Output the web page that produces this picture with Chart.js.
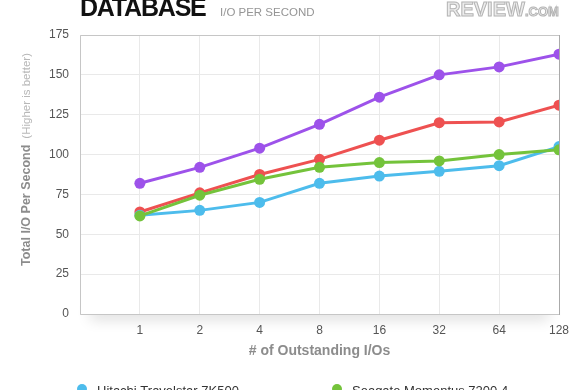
<!DOCTYPE html>
<html>
<head>
<meta charset="utf-8">
<script src="https://cdn.jsdelivr.net/npm/chart.js@4.4.0/dist/chart.umd.min.js"></script>
<style>
  html, body { margin: 0; padding: 0; background: #fff; overflow: hidden; }
  #wrap { width: 580px; height: 420px; }
</style>
</head>
<body>
<div id="wrap"><canvas id="chart" width="580" height="420"></canvas></div>
<script>
// values
const categories = ['1', '2', '4', '8', '16', '32', '64', '128'];
const hitachi = [62, 65, 70, 82, 86.5, 89.5, 93, 105];
const seagate = [61.5, 74.5, 84.5, 92, 95, 96, 100, 103];
const redDrive = [64, 76, 87.5, 97, 109, 120, 120.5, 131];
const purpleDrive = [82, 92, 104, 119, 136, 150, 155, 163];
const seriesNames = ['Hitachi Travelstar 7K500', 'Seagate Momentus 7200.4', 'WD Scorpio Black 500GB', 'Seagate Momentus XT'];
const seriesColors = ['#4dbcec', '#74c33b', '#ee5151', '#9d52ea'];
const yMax = 175;
const yStep = 25;

const FONT = "'Liberation Sans', Arial, Helvetica, sans-serif";
Chart.defaults.font.family = FONT;

function toPoints(values) {
  return values.map((v, i) => ({ x: i + 1, y: v }));
}

const decorations = {
  id: 'decorations',
  beforeDraw(chart) {
    const ctx = chart.ctx;
    const a = chart.chartArea;
    // soft shadow under the plot box
    ctx.save();
    ctx.shadowColor = 'rgba(0,0,0,0.13)';
    ctx.shadowBlur = 14;
    ctx.shadowOffsetY = 6;
    ctx.fillStyle = '#fff';
    ctx.fillRect(a.left + 10, a.bottom - 14, a.width - 20, 14);
    ctx.restore();
    ctx.fillStyle = '#fff';
    ctx.fillRect(a.left, a.top, a.width, a.height);
  },
  beforeDatasetsDraw(chart) {
    const ctx = chart.ctx;
    const a = chart.chartArea;
    ctx.save();
    ctx.lineWidth = 1;
    ctx.strokeStyle = '#c6c6c6';
    ctx.beginPath();
    ctx.moveTo(a.right, a.top + 0.5);
    ctx.lineTo(a.left + 0.5, a.top + 0.5);
    ctx.lineTo(a.left + 0.5, a.bottom + 0.5);
    ctx.lineTo(a.right, a.bottom + 0.5);
    ctx.stroke();
    ctx.strokeStyle = '#aaaaaa';
    ctx.beginPath();
    ctx.moveTo(a.right + 0.5, a.top);
    ctx.lineTo(a.right + 0.5, a.bottom + 1);
    ctx.stroke();
    ctx.restore();
  },
  afterDraw(chart) {
    const ctx = chart.ctx;
    ctx.save();

    // header
    ctx.textBaseline = 'alphabetic';
    ctx.textAlign = 'left';
    ctx.fillStyle = '#111';
    ctx.font = 'bold 25px ' + FONT;
    ctx.letterSpacing = '-1.2px';
    ctx.fillText('DATABASE', 80, 16);
    ctx.letterSpacing = '0px';
    ctx.fillStyle = '#959595';
    ctx.font = '11.5px ' + FONT;
    ctx.fillText('I/O PER SECOND', 220, 16);

    // site logo
    ctx.font = 'bold 20px ' + FONT;
    ctx.fillStyle = '#ececec';
    ctx.strokeStyle = '#b4b4b4';
    ctx.lineWidth = 1;
    ctx.fillText('REVIEW', 446, 16);
    ctx.strokeText('REVIEW', 446, 16);
    const w = ctx.measureText('REVIEW').width;
    ctx.font = 'bold 13px ' + FONT;
    ctx.fillText('.COM', 446 + w, 16);
    ctx.strokeText('.COM', 446 + w, 16);

    // y axis title, two styles
    ctx.translate(27, 266);
    ctx.rotate(-Math.PI / 2);
    ctx.textBaseline = 'middle';
    ctx.fillStyle = '#8c8c8c';
    ctx.font = 'bold 12.5px ' + FONT;
    const main = 'Total I/O Per Second';
    ctx.fillText(main, 0, 0);
    const mw = ctx.measureText(main).width;
    ctx.fillStyle = '#b8b8b8';
    ctx.font = '11.5px ' + FONT;
    ctx.fillText('(Higher is better)', mw + 6, 0);
    ctx.setTransform(1, 0, 0, 1, 0, 0);

    // legend, two columns
    ctx.font = '13px ' + FONT;
    ctx.textBaseline = 'alphabetic';
    const colX = [82, 337];
    seriesNames.forEach((name, i) => {
      const x = colX[i % 2];
      const y = 389 + Math.floor(i / 2) * 22;
      ctx.fillStyle = seriesColors[i];
      ctx.beginPath();
      ctx.arc(x, y, 5, 0, Math.PI * 2);
      ctx.fill();
      ctx.fillStyle = '#333';
      ctx.fillText(name, x + 15, y + 6);
    });
    ctx.restore();
  }
};

function makeSet(idx, values, order) {
  return {
    label: seriesNames[idx],
    data: toPoints(values),
    borderColor: seriesColors[idx],
    backgroundColor: seriesColors[idx],
    pointBackgroundColor: seriesColors[idx],
    pointBorderWidth: 0,
    pointRadius: 5.5,
    borderWidth: 3,
    tension: 0,
    order: order
  };
}

new Chart(document.getElementById('chart'), {
  type: 'line',
  data: {
    datasets: [
      makeSet(0, hitachi, 2),
      makeSet(1, seagate, 1),
      makeSet(2, redDrive, 3),
      makeSet(3, purpleDrive, 4)
    ]
  },
  options: {
    responsive: false,
    animation: false,
    devicePixelRatio: 1,
    layout: { padding: { top: 35, right: 21, bottom: 60, left: 0 } },
    plugins: { legend: { display: false }, tooltip: { enabled: false } },
    scales: {
      x: {
        type: 'linear',
        min: 0,
        max: categories.length,
        afterBuildTicks: axis => {
          axis.ticks = [0].concat(categories.map((c, i) => i + 1)).map(v => ({ value: v }));
        },
        ticks: {
          callback: v => (v >= 1 ? categories[v - 1] : ''),
          font: { size: 12 },
          color: '#555',
          padding: 9,
          maxRotation: 0,
          autoSkip: false
        },
        grid: { color: '#e9e9e9', drawTicks: false },
        border: { display: false },
        title: {
          display: true,
          text: '# of Outstanding I/Os',
          font: { size: 14, weight: 'bold' },
          color: '#8c8c8c',
          padding: { top: 0, bottom: 0 }
        },
        afterFit: s => { s.height = 46; }
      },
      y: {
        min: 0,
        max: yMax,
        ticks: {
          stepSize: yStep,
          font: { size: 12 },
          color: '#555',
          padding: 11
        },
        grid: { color: '#e9e9e9', drawTicks: false },
        border: { display: false },
        afterFit: s => { s.width = 80; }
      }
    }
  },
  plugins: [decorations]
});
</script>
</body>
</html>
